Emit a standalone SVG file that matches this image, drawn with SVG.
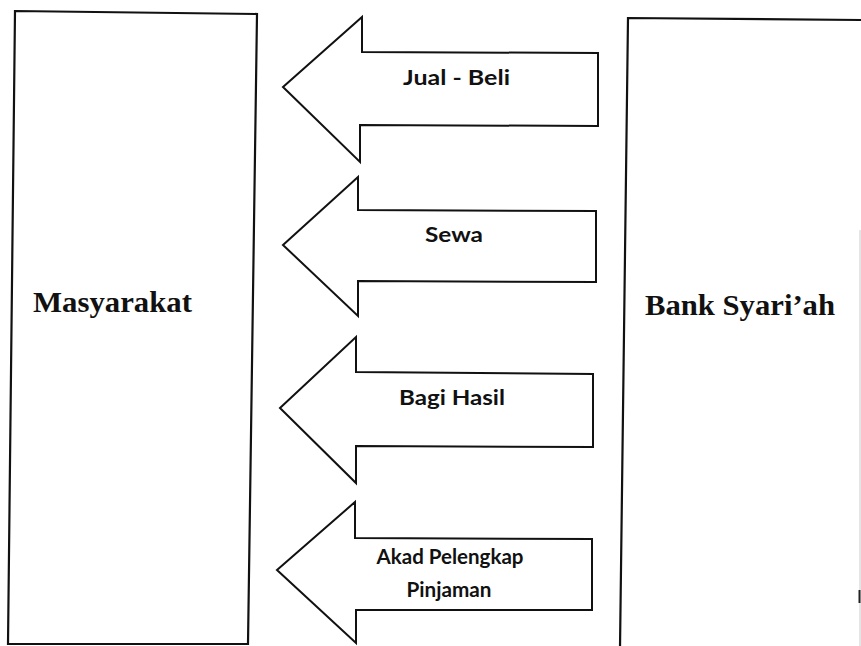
<svg xmlns="http://www.w3.org/2000/svg" width="861" height="646" viewBox="0 0 861 646">
<style>
.box{fill:#fff;stroke:#111;stroke-width:2.2;stroke-linejoin:miter}
.arr{fill:#fff;stroke:#111;stroke-width:2;stroke-linejoin:miter}
.big{font-family:"Liberation Serif","Times New Roman",serif;font-weight:bold;font-size:30px;fill:#111}
.lbl{font-family:Lato,"Open Sans","Liberation Sans",sans-serif;font-weight:bold;font-size:20px;fill:#111;text-anchor:middle}
</style>
<rect width="861" height="646" fill="#fff"/>
<g id="masyarakat">
<polygon class="box" points="15,11 257,14 248,644 8,644"/>
<text class="big" x="33" y="312" textLength="159" lengthAdjust="spacingAndGlyphs">Masyarakat</text>
</g>
<g id="bank-syariah">
<path class="box" d="M862,20 L628,18 L620,648"/>
<line x1="860" y1="230" x2="860" y2="646" stroke="#ccc" stroke-width="1"/>
<line x1="859.5" y1="590" x2="859.5" y2="603" stroke="#222" stroke-width="2"/>
<text class="big" x="645" y="315" textLength="190" lengthAdjust="spacingAndGlyphs">Bank Syari’ah</text>
</g>
<g id="connectors">
<g id="arrow-jual-beli">
<polygon class="arr" points="283,87 362,17 362,52 598,53 598,126 360,125 360,162"/>
<text class="lbl" x="456.5" y="85" textLength="107" lengthAdjust="spacingAndGlyphs">Jual - Beli</text>
</g>
<g id="arrow-sewa">
<polygon class="arr" points="283,245 358,177 358,210 596,211 596,282 358,281 358,316"/>
<text class="lbl" x="454" y="242" textLength="58" lengthAdjust="spacingAndGlyphs">Sewa</text>
</g>
<g id="arrow-bagi-hasil">
<polygon class="arr" points="280,408 356,337 356,372 593,374 593,447 356,446 356,483"/>
<text class="lbl" x="452" y="405" textLength="106" lengthAdjust="spacingAndGlyphs">Bagi Hasil</text>
</g>
<g id="arrow-akad-pelengkap">
<polygon class="arr" points="277,570 355,502 355,538 592,539 592,610 356,610 356,643"/>
<text class="lbl" x="450" y="564" font-size="18" textLength="147" lengthAdjust="spacingAndGlyphs">Akad Pelengkap</text>
<text class="lbl" x="449" y="597" font-size="18" textLength="85" lengthAdjust="spacingAndGlyphs">Pinjaman</text>
</g>
</g>
</svg>
